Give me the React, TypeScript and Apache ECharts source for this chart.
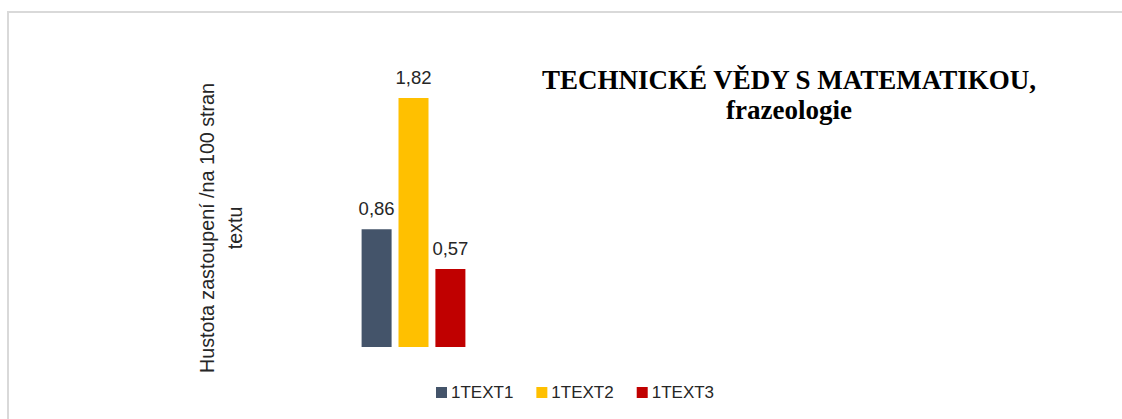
import React, { useEffect, useRef } from "react";
import * as echarts from "echarts";

const categories = ["frazeologie"];
const seriesNames = ["1TEXT1", "1TEXT2", "1TEXT3"];
const seriesValues = [[0.86], [1.82], [0.57]];
const seriesColors = ["#44546A", "#FFC000", "#C00000"];
const titleLines = ["TECHNICKÉ VĚDY S MATEMATIKOU,", "frazeologie"];
const axisNameLines = ["Hustota zastoupení /na 100 stran", "textu"];

export default function App() {
  const ref = useRef<HTMLDivElement>(null);
  useEffect(() => {
    if (!ref.current) return;
    const chart = echarts.init(ref.current, null, { renderer: "svg" });
    const sans = "'Liberation Sans', Arial, sans-serif";
    chart.setOption({
      animation: false,
      backgroundColor: "#ffffff",
      title: {
        text: titleLines.join("\n"),
        left: 789,
        top: 65,
        textAlign: "center",
        padding: 0,
        textStyle: {
          fontFamily: "'Liberation Serif', 'Times New Roman', serif",
          fontWeight: "bold",
          fontSize: 27,
          lineHeight: 30,
          color: "#000000",
        },
      },
      graphic: [
        {
          type: "rect",
          shape: { x: 8, y: 12, width: 1200, height: 500 },
          style: { fill: "none", stroke: "#d9d9d9", lineWidth: 2 },
          silent: true,
          z: 0,
        },
        {
          type: "text",
          x: 207,
          y: 228,
          rotation: Math.PI / 2,
          style: {
            text: axisNameLines[0],
            fontFamily: sans,
            fontSize: 19.7,
            fill: "#262626",
            align: "center",
            verticalAlign: "middle",
          },
        },
        {
          type: "text",
          x: 235,
          y: 228,
          rotation: Math.PI / 2,
          style: {
            text: axisNameLines[1],
            fontFamily: sans,
            fontSize: 19.7,
            fill: "#262626",
            align: "center",
            verticalAlign: "middle",
          },
        },
      ],
      legend: {
        data: seriesNames,
        left: 436,
        top: 384,
        padding: 0,
        itemWidth: 11,
        itemHeight: 11,
        itemGap: 23,
        icon: "rect",
        textStyle: { fontFamily: sans, fontSize: 17, color: "#262626", padding: [0, 0, 0, -1] },
      },
      grid: { left: 330, width: 167, top: 73.4, height: 273.6 },
      xAxis: { type: "category", data: categories, show: false },
      yAxis: { type: "value", min: 0, max: 2, show: false, splitLine: { show: false } },
      series: seriesNames.map((name, i) => ({
        name,
        type: "bar",
        data: seriesValues[i],
        barWidth: 30,
        barGap: "23%",
        itemStyle: { color: seriesColors[i] },
        label: {
          show: true,
          position: "top",
          distance: 11,
          formatter: (p: any) => String(p.value).replace(".", ","),
          fontFamily: sans,
          fontSize: 18.5,
          color: "#262626",
        },
      })),
    });
    return () => chart.dispose();
  }, []);
  return (
    <div
      ref={ref}
      style={{ position: "fixed", left: 0, top: 0, width: 1122, height: 419 }}
    />
  );
}
